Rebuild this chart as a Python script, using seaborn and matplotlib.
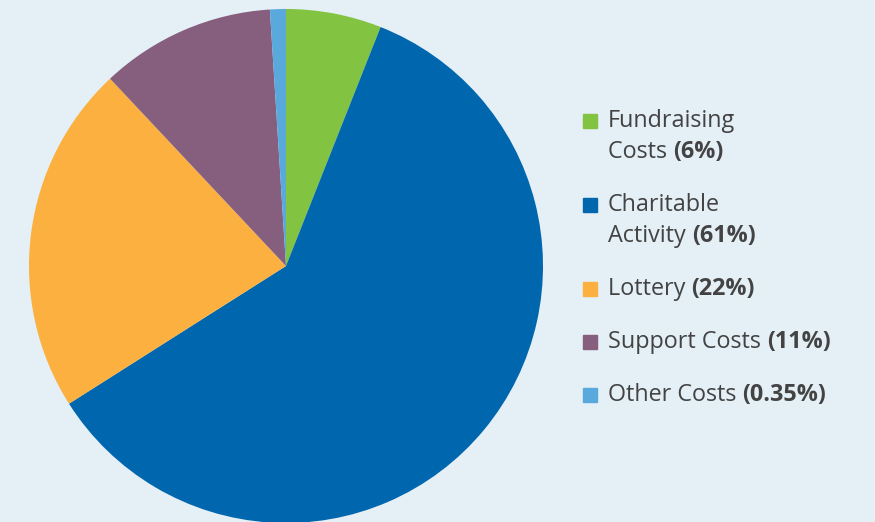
"""
Pie chart of cost breakdown with a custom two-tone legend
"""

import matplotlib
matplotlib.use('Agg')
import matplotlib.pyplot as plt
import seaborn as sns

# data
names = ['Fundraising\nCosts', 'Charitable\nActivity', 'Lottery', 'Support Costs', 'Other Costs']
pct_labels = ['(6%)', '(61%)', '(22%)', '(11%)', '(0.35%)']
wedge_sizes = [6, 60, 22, 11, 1]  # as drawn in the picture
colors = ['#82c341', '#0066ae', '#fbb03f', '#865e7e', '#5aa9dc']

bg = '#e4eff6'
text_color = '#434343'

sns.set_theme(style='white')
plt.rcParams['font.family'] = ['Open Sans', 'DejaVu Sans']

W, H = 875, 522
fig = plt.figure(figsize=(W / 100, H / 100), dpi=100, facecolor=bg)

# pie axes: centre (286, 266) px, radius 257 px
cx, cy, r = 286, 266, 257
ax = fig.add_axes([(cx - r) / W, (H - cy - r) / H, 2 * r / W, 2 * r / H])
ax.set_facecolor(bg)
ax.pie(wedge_sizes, colors=colors, startangle=90, counterclock=False,
       radius=1, wedgeprops=dict(linewidth=0))
ax.set_xlim(-1, 1)
ax.set_ylim(-1, 1)
ax.axis('off')

# legend drawn by hand so the percentage can be bold
fs = 16.8
baseline = 127
for name, pct, col in zip(names, pct_labels, colors):
    lines = name.split('\n')
    # coloured square
    fig.patches.append(plt.Rectangle((583 / W, 1 - (baseline + 1) / H), 14 / W, 14 / H,
                                     transform=fig.transFigure, color=col, figure=fig))
    y = baseline
    for i, line in enumerate(lines):
        t = fig.text(608 / W, 1 - y / H, line + (' ' if i == len(lines) - 1 else ''),
                     fontsize=fs, color=text_color, va='baseline', ha='left')
        if i < len(lines) - 1:
            y += 31
    # bold part right after the regular text
    ax.annotate(pct, xy=(1, 0), xycoords=t, xytext=(0, 0), textcoords='offset points',
                fontsize=fs, fontweight='bold', color=text_color,
                va='bottom', ha='left', annotation_clip=False)
    baseline = y + 53

fig.savefig('out.png', dpi=100, facecolor=bg)
